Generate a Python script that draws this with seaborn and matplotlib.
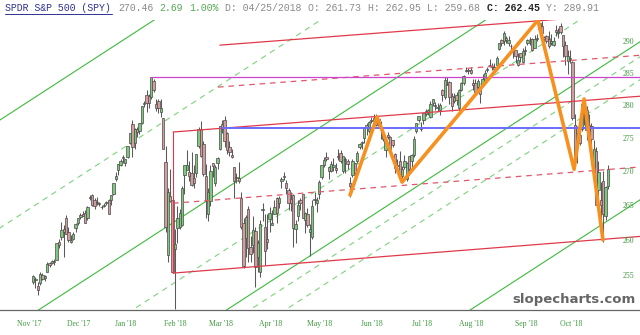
import numpy as np
import pandas as pd
import matplotlib
matplotlib.use("Agg")
import matplotlib.pyplot as plt
import seaborn as sns
from matplotlib.lines import Line2D
from matplotlib.transforms import blended_transform_factory

# ---------------- data (daily SPY candles, bar index 0 = mid Nov 2017) ----------------
opens = [
    254.2, 254.6, 253.6, 254.0, 255.2, 254.7, 255.6, 256.8, 256.8, 257.1, 257.3, 259.8, 260.5,
    261.6, 263.2, 261.2, 259.8, 260.3, 261.8, 262.5, 263.4, 263.9, 264.0, 263.3, 266.2, 266.6, 265.9, 265.5, 265.4, 264.9, 265.0, 265.5, 265.9,
    265.8, 266.7, 269.0, 270.3, 271.1, 272.1, 271.4, 272.3, 274.4, 277.2, 274.4, 276.5, 276.2, 277.4, 280.3, 281.6, 281.5, 281.3, 283.8, 280.3, 280.8,
    279.1, 278.1, 271.5, 257.9, 266.5, 265.9, 258.8, 261.8, 261.9, 262.3, 269.6, 270.3, 270.0, 269.9, 269.1, 269.8, 273.9, 276.4, 274.2,
    269.4, 263.8, 265.7, 271.3, 268.4, 271.3, 273.4, 277.2, 277.8, 275.8, 273.8, 272.5, 270.7, 269.1, 269.1, 266.1, 262.5, 260.4, 264.5, 259.1, 259.4,
    261.4, 257.7, 255.6, 264.4, 261.9, 260.2, 263.1, 262.3, 263.9, 266.2, 265.4, 268.6, 269.4, 268.3, 267.4, 266.0, 266.6, 261.73, 263.5, 265.8, 266.7,
    262.9, 263.8, 261.3, 260.5, 265.9, 265.5, 266.7, 269.2, 271.1, 272.3, 270.8, 270.1, 270.8, 270.6, 272.3, 272.9, 270.2, 272.0, 271.6, 268.3, 269.5, 271.3,
    271.7, 273.8, 274.3, 275.1, 277.0, 276.2, 277.6, 278.0, 278.5, 277.9, 276.7, 274.9, 273.3, 275.6, 275.3, 274.8, 272.7, 270.9, 271.6, 269.4, 270.8,
    269.0, 272.4, 271.7, 272.6, 276.1, 277.9, 276.7, 277.8, 278.8, 279.3, 278.3, 280.5, 280.2, 279.8, 279.4, 282.5, 281.3, 283.3, 283.7, 281.5, 280.8,
    281.6, 279.6, 282.5, 283.6, 285.4, 285.4, 285.5, 283.5, 283.5, 282.9, 282.4, 283.4, 283.8, 285.6, 286.3, 286.0, 286.1, 286.4, 288.9, 290.3, 290.2, 290.7, 289.8,
    289.3, 288.9, 288.7, 286.4, 288.2, 286.9, 288.6, 289.8, 290.5, 290.4, 289.1, 290.5, 292.1, 292.6, 290.8, 291.0, 290.4, 289.9, 289.5,
    291.9, 291.5, 292.6, 291.1, 289.6, 287.0, 287.3, 286.8, 277.0, 276.7, 275.5, 276.5, 280.5, 279.3, 277.0, 276.9, 270.8, 273.2, 267.3, 265.8, 268.7, 263.6, 267.9,
]
highs = [
    255.2, 254.9, 254.2, 255.5, 255.4, 255.2, 256.9, 256.9, 257.2, 257.4, 259.7, 260.2, 262.7,
    262.2, 263.7, 261.9, 260.8, 261.2, 262.5, 263.3, 264.0, 264.3, 264.4, 265.0, 266.6, 266.7, 266.1, 266.3, 265.6, 265.2, 265.4, 265.7, 266.0,
    266.6, 268.4, 270.0, 271.2, 271.9, 272.6, 272.0, 273.9, 275.9, 277.9, 276.6, 276.7, 277.4, 279.9, 280.8, 282.5, 281.9, 284.5, 284.1, 281.0, 281.1,
    281.1, 278.2, 273.9, 267.7, 270.4, 266.2, 261.6, 265.0, 264.6, 267.9, 271.0, 273.3, 271.7, 273.0, 271.0, 272.7, 276.8, 277.6, 274.6,
    271.2, 267.6, 271.0, 271.4, 271.0, 272.2, 276.9, 277.9, 278.4, 276.0, 274.6, 273.4, 270.8, 269.9, 271.5, 267.1, 263.3, 263.7, 265.0, 260.6, 263.6,
    261.9, 260.1, 263.0, 265.4, 263.9, 263.9, 264.8, 264.4, 265.8, 266.3, 266.4, 269.3, 270.0, 268.8, 267.6, 267.0, 266.8, 262.95, 265.9, 266.1, 266.8,
    264.1, 264.7, 262.4, 265.8, 267.0, 266.3, 268.8, 271.1, 272.2, 273.0, 270.9, 271.6, 272.1, 271.4, 273.5, 273.3, 272.4, 272.3, 272.0, 269.3, 272.0, 271.4,
    273.2, 274.4, 274.6, 276.8, 277.3, 277.6, 278.3, 278.8, 278.8, 278.3, 277.6, 276.2, 275.1, 276.0, 275.4, 274.8, 272.9, 271.9, 273.2, 270.9, 272.6,
    271.5, 272.4, 272.7, 275.4, 277.4, 278.5, 277.5, 278.9, 279.5, 279.5, 280.7, 281.1, 280.6, 280.5, 280.4, 282.6, 284.4, 284.4, 283.8, 282.0, 282.0,
    282.1, 282.6, 283.7, 284.8, 286.0, 285.9, 286.0, 284.1, 284.2, 284.2, 282.5, 285.0, 285.6, 286.0, 287.3, 286.7, 286.6, 287.7, 289.9, 290.4, 291.7, 290.9, 291.0,
    289.7, 289.1, 288.8, 288.2, 288.3, 289.0, 289.3, 290.5, 290.8, 290.6, 291.1, 291.2, 293.3, 293.4, 291.0, 291.1, 291.7, 291.3, 290.8,
    292.8, 292.3, 293.1, 291.1, 290.2, 288.8, 288.8, 287.0, 278.8, 276.9, 276.9, 280.4, 281.1, 280.0, 278.7, 277.3, 274.8, 273.7, 271.7, 268.5, 270.2, 268.0, 271.0,
]
lows = [
    253.9, 253.3, 252.3, 253.8, 254.5, 254.3, 255.5, 256.3, 256.7, 256.6, 257.2, 259.0, 260.1,
    257.6, 261.0, 259.8, 259.6, 260.1, 261.2, 262.3, 263.1, 263.5, 262.5, 263.0, 265.9, 265.0, 264.5, 265.2, 265.0, 264.6, 264.9, 265.2, 263.8,
    265.2, 266.6, 268.7, 269.6, 270.9, 271.3, 270.9, 272.1, 274.2, 272.2, 273.4, 275.2, 275.7, 277.2, 279.8, 279.0, 279.6, 281.0, 282.2, 279.2, 278.9,
    278.3, 273.4, 261.3, 257.0, 265.6, 255.6, 250.4, 259.7, 261.7, 262.1, 266.8, 270.3, 268.6, 268.0, 267.6, 269.2, 273.6, 272.3, 269.4,
    263.3, 262.8, 265.0, 269.2, 268.0, 270.4, 273.3, 275.8, 273.7, 272.7, 272.4, 272.1, 266.2, 268.4, 268.4, 261.6, 256.1, 257.7, 257.0, 256.9, 258.2,
    253.5, 255.6, 254.9, 262.8, 256.6, 258.8, 261.2, 262.2, 263.9, 262.6, 264.7, 267.7, 268.8, 266.7, 264.4, 264.3, 259.1, 259.68, 262.8, 264.4, 263.3,
    261.1, 262.0, 257.8, 260.2, 265.1, 264.1, 266.0, 268.9, 270.8, 271.7, 268.9, 270.0, 270.1, 269.9, 271.8, 271.4, 269.9, 269.8, 270.4, 266.3, 269.3, 269.0,
    271.3, 273.4, 273.4, 274.3, 275.6, 275.9, 277.4, 277.7, 276.9, 276.9, 274.9, 274.6, 272.3, 274.9, 272.9, 273.7, 269.9, 269.8, 269.2, 269.1, 270.5,
    268.7, 269.9, 270.1, 272.2, 275.9, 277.5, 276.1, 277.2, 278.4, 278.6, 278.2, 280.0, 279.3, 279.2, 278.6, 280.7, 281.0, 283.2, 280.3, 279.2, 280.4,
    280.1, 279.4, 282.3, 283.3, 285.2, 285.0, 284.9, 282.4, 281.8, 282.5, 280.4, 283.2, 283.4, 285.2, 286.0, 285.6, 285.3, 286.3, 288.7, 289.4, 289.6, 289.9, 289.3,
    288.2, 287.4, 286.7, 286.2, 286.8, 286.6, 287.9, 289.5, 289.5, 288.5, 289.0, 290.1, 292.0, 290.7, 289.9, 289.9, 289.0, 289.6, 289.4,
    290.9, 290.7, 291.2, 287.6, 286.3, 284.9, 286.7, 277.8, 272.1, 271.3, 274.1, 276.2, 277.0, 274.8, 275.0, 273.2, 268.5, 265.2, 266.1, 262.2, 259.8, 263.0, 267.5,
]
closes = [
    255.0, 254.4, 253.1, 255.3, 254.6, 255.0, 256.7, 256.5, 257.1, 256.9, 259.6, 259.4, 261.5,
    261.3, 261.0, 260.1, 260.1, 261.0, 262.4, 263.2, 263.7, 263.6, 262.6, 264.9, 266.3, 265.2, 265.0, 265.5, 265.3, 264.8, 265.1, 265.6, 263.8,
    266.6, 268.3, 269.4, 271.2, 271.7, 272.3, 271.9, 273.9, 275.8, 273.8, 276.4, 276.0, 277.4, 279.9, 280.5, 280.4, 280.4, 284.4, 282.5, 279.6, 279.7,
    279.6, 273.5, 261.9, 267.1, 265.7, 255.6, 259.5, 263.3, 264.0, 267.6, 271.0, 271.1, 269.4, 268.1, 268.4, 272.7, 276.5, 272.4, 269.7,
    265.7, 267.1, 270.2, 270.9, 270.8, 272.1, 276.9, 276.5, 274.7, 273.3, 273.0, 272.2, 268.7, 269.1, 268.6, 261.9, 256.4, 263.4, 258.9, 258.1, 261.5,
    256.3, 259.6, 262.4, 264.4, 258.5, 259.8, 264.0, 262.6, 264.8, 264.0, 266.1, 269.0, 269.2, 267.7, 265.4, 265.4, 261.8, 262.45, 265.1, 265.4, 263.3,
    264.0, 262.2, 261.6, 265.0, 265.9, 265.9, 268.5, 271.0, 271.85, 272.0, 270.1, 271.2, 271.0, 270.3, 272.4, 271.6, 272.4, 271.8, 271.2, 268.0, 271.6, 269.9,
    272.9, 274.2, 274.4, 276.7, 276.7, 277.5, 277.9, 278.2, 277.1, 278.0, 276.4, 275.9, 274.8, 275.3, 273.5, 274.0, 270.6, 270.9, 269.4, 270.4, 271.6,
    271.4, 270.4, 272.6, 274.9, 277.4, 278.4, 276.4, 278.9, 279.2, 279.0, 280.3, 281.0, 279.9, 279.7, 280.2, 281.6, 284.0, 283.3, 281.4, 279.9, 281.3,
    280.9, 282.4, 283.6, 284.6, 285.5, 285.5, 285.1, 283.2, 282.1, 283.9, 281.8, 284.1, 285.1, 285.7, 286.3, 286.2, 285.8, 287.5, 289.8, 289.9, 291.5, 290.3, 290.3,
    289.3, 288.5, 287.7, 287.1, 287.6, 288.6, 288.6, 290.3, 290.4, 288.8, 290.4, 290.7, 293.1, 291.5, 290.5, 290.2, 289.4, 290.2, 290.2,
    291.6, 291.5, 291.6, 289.3, 287.7, 287.7, 287.3, 278.2, 272.2, 275.9, 274.3, 280.3, 280.3, 276.3, 276.1, 274.9, 273.5, 265.2, 270.0, 265.2, 263.8, 267.77, 270.46,
]

# month tick labels at the bar index of each month's first session
month_labels = ["Nov '17", "Dec '17", "Jan '18", "Feb '18", "Mar '18", "Apr '18",
                "May '18", "Jun '18", "Jul '18", "Aug '18", "Sep '18", "Oct '18"]
month_start = [-8, 13, 33, 54, 73, 94, 115, 137, 158, 179, 202, 221]
price_ticks = [290, 285, 280, 275, 270, 265, 260, 255]

# drawn studies: anchor points (bar index, price)
green_solid = [[(0, 281.12), (200, 332.80)], [(0, 249.78), (200, 295.70)],
               [(0, 233.58), (200, 276.52)], [(0, 214.15), (200, 253.51)]]
green_dashed = [[(0, 264.92), (200, 313.61)], [(0, 241.55), (200, 285.95)],
                [(0, 231.66), (200, 274.25)], [(0, 228.75), (200, 270.80)]]
red_solid = [[(79.0, 289.5), (200, 293.0)], [(59.2, 276.0), (200, 279.9)],
             [(59.2, 255.4), (200, 259.1)]]
red_dashed = [[(78.2, 282.9), (200, 286.3)], [(59.2, 265.4), (200, 269.2)]]
handle_idx, handle_lo, handle_hi = 59.2, 255.4, 276.0
magenta_level = (50, 284.4)
blue_level = (80, 276.6)
zig_idx = [134, 145.4, 156, 213.4, 228.7, 232.9, 240.9]
zig_price = [266.6, 278.3, 268.5, 293.5, 270.4, 281.05, 260.1]

title_parts = [("SPDR S&P 500 (SPY)", 0), ("270.46", 19), ("2.69", 26), ("1.00%", 31),
               ("D: 04/25/2018", 37), ("O: 261.73", 51), ("H: 262.95", 61),
               ("L: 259.68", 71), ("C: 262.45", 81), ("Y: 289.91", 91)]

# ---------------- styling / figure ----------------
sns.set_theme(style="white")
plt.rcParams['font.family'] = ['DejaVu Sans']
plt.rcParams['lines.scale_dashes'] = False

W, H = 640, 335
fig = plt.figure(figsize=(W / 100, H / 100), dpi=100)
fig.patch.set_facecolor('white')
ax = fig.add_axes([0, 25 / H, 1, 290 / H])
ax.set_facecolor('white')
ax.set_yscale('log')
XMIN, XMAX = -13.95, 256.55
ax.set_xlim(XMIN, XMAX)
ax.set_ylim(250.27, 293.53)

df = pd.DataFrame({'i': np.arange(len(closes)), 'o': opens, 'h': highs, 'l': lows, 'c': closes})
up = df['c'] >= df['o']

def extend(p1, p2, x_from, x_to):
    (i1, v1), (i2, v2) = p1, p2
    k = (np.log(v2) - np.log(v1)) / (i2 - i1)
    xs = np.array([x_from, x_to])
    return xs, v1 * np.exp(k * (xs - i1))

# channel lines
for a, b in green_solid:
    xs, ys = extend(a, b, XMIN - 5, XMAX + 5)
    ax.plot(xs, ys, color='#3dba3d', lw=0.8, zorder=1.5)
for a, b in green_dashed:
    xs, ys = extend(a, b, XMIN - 5, XMAX + 5)
    ax.plot(xs, ys, color='#7fd07f', lw=0.8, dashes=(4, 3.5), zorder=1.5)

# candles
ax.vlines(df['i'], df['l'], df['h'], color='#5a5a5a', lw=0.75, zorder=2)
body_lo = np.minimum(df['o'], df['c'])
body_h = np.maximum(np.abs(df['c'] - df['o']), 0.12)
ax.bar(df['i'], body_h, bottom=body_lo, width=1.0,
       color=np.where(up, '#7cc97c', '#d49d9d'), edgecolor='#4a4a4a', linewidth=0.5, zorder=2.5)

# red pitchfork-style lines
for a, b in red_solid:
    xs, ys = extend(a, b, a[0], XMAX + 5)
    ax.plot(xs, ys, color='#e03a4a', lw=0.9, zorder=3)
for a, b in red_dashed:
    xs, ys = extend(a, b, a[0], XMAX + 5)
    ax.plot(xs, ys, color='#e3566a', lw=0.9, dashes=(4, 3.5), zorder=3)
ax.plot([handle_idx, handle_idx], [handle_lo, handle_hi], color='#e03a4a', lw=0.8, zorder=3)

# horizontal levels
ax.plot([magenta_level[0], XMAX + 5], [magenta_level[1]] * 2, color='#cc44cc', lw=0.9, zorder=3)
ax.plot([blue_level[0], XMAX + 5], [blue_level[1]] * 2, color='#6b6bff', lw=1.4, zorder=3)

# orange zigzag
sns.lineplot(x=zig_idx, y=zig_price, sort=False, estimator=None, color='#f7901e',
             lw=2.6, ax=ax, zorder=4, solid_capstyle='round', solid_joinstyle='round')

# axes decoration
for s in ['top', 'left', 'right']:
    ax.spines[s].set_visible(False)
ax.spines['bottom'].set_color('#666666')
ax.spines['bottom'].set_linewidth(0.9)
ax.set_xticks([])
ax.set_yticks([])
ax.yaxis.set_minor_locator(matplotlib.ticker.NullLocator())
ax.set_xlabel('')
ax.set_ylabel('')

serif = ['Liberation Serif', 'DejaVu Serif']
tr_y = blended_transform_factory(ax.transAxes, ax.transData)
for p in price_ticks:
    ax.text(628 / W, p, str(p), transform=tr_y, ha='center', va='center',
            fontsize=5.6, color='#3f9a3f', family=serif, zorder=6)
tr_x = blended_transform_factory(ax.transData, ax.transAxes)
for lab, m in zip(month_labels, month_start):
    ax.text(m + 6.3, -14 / 290, lab, transform=tr_x, ha='center', va='center',
            fontsize=5.6, color='#3f9a3f', family=serif, clip_on=False)

# header line
cw = 5.95
mono = ['Liberation Mono', 'DejaVu Sans Mono']
colors = {0: '#2e3192', 19: '#8a8a8a', 26: '#55aa55', 31: '#55aa55', 37: '#8a8a8a', 51: '#8a8a8a',
          61: '#8a8a8a', 71: '#8a8a8a', 81: '#222222', 91: '#8a8a8a'}
for txt, pos in title_parts:
    fig.text((5 + pos * cw) / W, 1 - 8 / H, txt, ha='left', va='center', fontsize=7.1,
             family=mono, color=colors[pos], fontweight='bold' if pos == 81 else 'normal')
fig.add_artist(Line2D([5 / W, (5 + 18 * cw) / W], [1 - 13.5 / H] * 2, color='#2e3192', lw=0.7))

fig.text(636 / W, 1 - 300 / H, 'slopecharts.com', ha='right', va='center', fontsize=9.5,
         fontweight='bold', color='#666666', family=['DejaVu Sans'])

fig.savefig('out.png', dpi=100, facecolor='white')
